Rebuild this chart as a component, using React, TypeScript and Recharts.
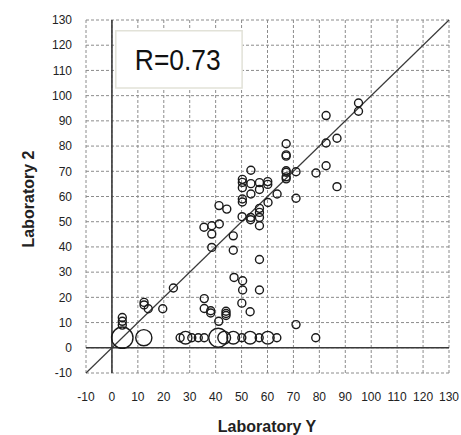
import React from 'react';
import {
  ScatterChart,
  Scatter,
  XAxis,
  YAxis,
  ZAxis,
  CartesianGrid,
  ReferenceLine,
  ReferenceArea,
} from 'recharts';

// Laboratory Y values
const labY: number[] = [
  4, 4, 4, 4,
  12.3, 12.4, 12.4, 14, 19.6, 23.7,
  26.3, 28.4, 30.8, 33.3, 35.6, 41, 43.3, 46.8, 50.1, 53.3, 56.8, 60.1, 63.6, 78.6,
  35.6, 35.6, 38.1, 38.1, 41.2, 44, 44, 44, 50.1, 53.3, 50.4, 56.9, 47.1, 50.4, 71,
  35.5, 38.5, 41.4, 38.5, 38.5, 46.8, 46.8, 56.9,
  41.3, 44.3, 50.2, 53.5, 53.5, 56.9, 56.9, 56.9, 56.9,
  50.3, 50.3, 60.2, 53.6, 56.9, 63.7, 71,
  50.3, 50.3, 50.3, 53.6, 56.9, 60.1, 60.1, 53.6,
  67.2, 67.2, 67.2, 67.2, 67.2, 67.2, 67.2,
  71, 78.7, 82.6, 86.8, 82.6, 86.8, 82.6, 95.1, 95.1,
];

// Laboratory 2 values
const lab2: number[] = [
  4, 12, 10.5, 9,
  4, 18, 17, 15.5, 15.5, 23.7,
  4, 4, 4, 4, 4, 4, 4, 4, 4, 4, 4, 4, 4, 4,
  19.5, 15.6, 14.7, 13.8, 10.5, 14.5, 13.6, 12.8, 17.7, 14.3, 22.9, 22.9, 27.9, 26.6, 9.2,
  47.8, 48.4, 49.1, 45.1, 39.8, 44.4, 38.7, 35,
  56.4, 55, 52, 51.7, 50.8, 55.3, 53.7, 51.7, 48.4,
  59, 57.8, 57.6, 61, 62.8, 61, 59.3,
  66.8, 65.6, 63.5, 65.1, 65.5, 65.9, 64.8, 70.4,
  80.9, 76.5, 76, 70.2, 69.6, 67.8, 67,
  69.8, 69.3, 72.2, 63.9, 81.2, 83.1, 92.1, 97.1, 93.8,
];

// number of coinciding results (bubble weight)
const weight: number[] = [
  5, 1, 1, 1,
  3, 1, 1, 1, 1, 1,
  1, 2, 1, 1, 1, 4, 2, 2, 1, 2, 1, 2, 1, 1,
  1, 1, 1, 1, 1, 1, 1, 1, 1, 1, 1, 1, 1, 1, 1,
  1, 1, 1, 1, 1, 1, 1, 1,
  1, 1, 1, 1, 1, 1, 1, 1, 1,
  1, 1, 1, 1, 1, 1, 1,
  1, 1, 1, 1, 1, 1, 1, 1,
  1, 1, 1, 1, 1, 1, 1,
  1, 1, 1, 1, 1, 1, 1, 1, 1,
];

const axisTicks: number[] = [-10, 0, 10, 20, 30, 40, 50, 60, 70, 80, 90, 100, 110, 120, 130];
const axisDomain: [number, number] = [-10, 130];
const rText = 'R=0.73';
const rBox = { x1: 1.5, x2: 50.2, y1: 103, y2: 125.7 };
const xTitle = 'Laboratory Y';
const yTitle = 'Laboratory 2';

const data = labY.map((x, i) => ({ x, y: lab2[i], w: weight[i] }));

const FONT = '"Liberation Sans", Arial, sans-serif';

const Ring = (props: any) => {
  const { cx, cy, width, size } = props;
  if (cx == null || cy == null) return null;
  const r = width ? width / 2 : Math.sqrt((size || 50) / Math.PI);
  return <circle cx={cx} cy={cy} r={r} fill="none" stroke="#1a1a1a" strokeWidth={1.4} />;
};

export default function App() {
  return (
    <div style={{ position: 'absolute', left: 0, top: 0, width: 461, height: 435, background: '#fff' }}>
      <ScatterChart
        width={461}
        height={435}
        margin={{ top: 20, right: 12, bottom: 0, left: 0 }}
        style={{ fontFamily: FONT }}
      >
        <CartesianGrid stroke="#8c8c8c" strokeDasharray="3 2" strokeWidth={1} />
        <XAxis
          type="number"
          dataKey="x"
          domain={axisDomain}
          ticks={axisTicks}
          interval={0}
          allowDataOverflow
          axisLine={false}
          tickLine={false}
          tickSize={6}
          tickMargin={13}
          height={62}
          tick={{ fontSize: 12, fill: '#222', fontFamily: FONT }}
          label={{
            content: () => (
              <text x={267} y={432} textAnchor="middle" fontSize={16} fontWeight="bold" fill="#222" fontFamily={FONT}>
                {xTitle}
              </text>
            ),
          }}
        />
        <YAxis
          type="number"
          dataKey="y"
          domain={axisDomain}
          ticks={axisTicks}
          interval={0}
          allowDataOverflow
          axisLine={false}
          tickLine={false}
          tickSize={6}
          tickMargin={8}
          width={86}
          tick={{ fontSize: 12, fill: '#222', fontFamily: FONT }}
          label={{
            content: () => (
              <text
                x={0}
                y={0}
                transform="translate(34,199) rotate(-90)"
                textAnchor="middle"
                fontSize={16}
                fontWeight="bold"
                fill="#222"
                fontFamily={FONT}
              >
                {yTitle}
              </text>
            ),
          }}
        />
        <ZAxis type="number" dataKey="w" domain={[1, 5]} range={[50, 360]} />
        <ReferenceArea
          x1={rBox.x1}
          x2={rBox.x2}
          y1={rBox.y1}
          y2={rBox.y2}
          fill="#ffffff"
          fillOpacity={1}
          stroke="#e2e2d8"
          strokeWidth={1.5}
          ifOverflow="visible"
          label={{
            content: (p: any) => {
              const vb = p.viewBox || { x: 116, y: 32, width: 126, height: 57 };
              return (
                <text
                  x={0}
                  y={0}
                  transform={`translate(${vb.x + 19},${vb.y + vb.height / 2 + 11}) scale(0.88,1)`}
                  fontSize={30}
                  fill="#111"
                  fontFamily={FONT}
                >
                  {rText}
                </text>
              );
            },
          }}
        />
        <ReferenceLine x={0} stroke="#3a3a3a" strokeWidth={1.6} />
        <ReferenceLine y={0} stroke="#3a3a3a" strokeWidth={1.6} />
        <ReferenceLine
          segment={[
            { x: axisDomain[0], y: axisDomain[0] },
            { x: axisDomain[1], y: axisDomain[1] },
          ]}
          stroke="#3a3a3a"
          strokeWidth={1.2}
        />
        <Scatter data={data} shape={Ring} isAnimationActive={false} />
      </ScatterChart>
    </div>
  );
}
